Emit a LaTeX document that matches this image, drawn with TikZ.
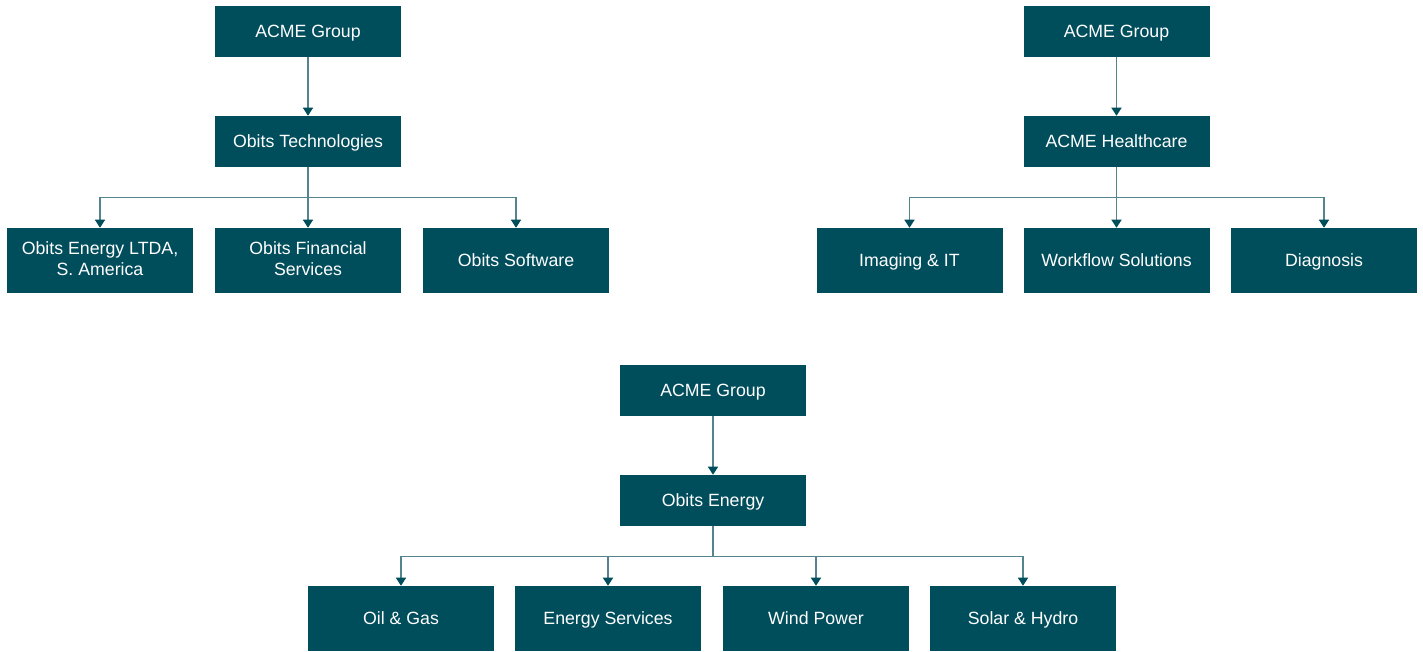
\documentclass[tikz,border=0pt]{standalone}
\usepackage{fontspec}
\setmainfont{Liberation Sans}
\usetikzlibrary{arrows.meta, positioning}
\definecolor{acmeteal}{RGB}{0, 77, 92}
\definecolor{acmeline}{RGB}{84, 132, 142}
\newcommand{\unitstrut}{\rule[-3pt]{0pt}{15.6pt}}

\begin{document}
\begin{tikzpicture}[
    x=0.75pt, y=-0.75pt,
    unit/.style={rectangle, fill=acmeteal, text=white, inner sep=0pt, minimum width=139.5pt, minimum height=38.25pt, align=center, font=\fontsize{13.3}{15.8}\selectfont, execute at begin node=\unitstrut, execute at end node=\unitstrut},
    subunit/.style={unit, minimum height=48.75pt},
    arrow/.style={-{Triangle[width=7.5pt, length=6pt, color=acmeteal]}, line width=1.1pt, acmeline}
]
    \useasboundingbox (0,0) rectangle (1423,651);

    % Obits Technologies
    \node[unit] (acmeL) at (308, 31.5) {ACME Group};
    \node[unit] (tech) at (308, 141.5) {Obits Technologies};
    \node[subunit] (ltda) at (100, 260.5) {Obits Energy LTDA,\\S. America};
    \node[subunit] (finserv) at (308, 260.5) {Obits Financial\\Services};
    \node[subunit] (software) at (516, 260.5) {Obits Software};

    \draw[arrow] (acmeL) -- (tech);
    \draw[arrow] (tech.south) -- ++(0,30) -| (ltda.north);
    \draw[arrow] (tech.south) -- (finserv.north);
    \draw[arrow] (tech.south) -- ++(0,30) -| (software.north);

    % ACME Healthcare
    \node[unit] (acmeR) at (1116.5, 31.5) {ACME Group};
    \node[unit] (health) at (1116.5, 141.5) {ACME Healthcare};
    \node[subunit] (imaging) at (909.5, 260.5) {Imaging \& IT};
    \node[subunit] (workflow) at (1116.5, 260.5) {Workflow Solutions};
    \node[subunit] (diagnosis) at (1324, 260.5) {Diagnosis};

    \draw[arrow] (acmeR) -- (health);
    \draw[arrow] (health.south) -- ++(0,30) -| (imaging.north);
    \draw[arrow] (health.south) -- (workflow.north);
    \draw[arrow] (health.south) -- ++(0,30) -| (diagnosis.north);

    % Obits Energy
    \node[unit] (acmeB) at (713, 390.5) {ACME Group};
    \node[unit] (energy) at (713, 500.5) {Obits Energy};
    \node[subunit] (oilgas) at (401, 618.5) {Oil \& Gas};
    \node[subunit] (enserv) at (608, 618.5) {Energy Services};
    \node[subunit] (wind) at (816, 618.5) {Wind Power};
    \node[subunit] (solar) at (1023, 618.5) {Solar \& Hydro};

    \draw[arrow] (acmeB) -- (energy);
    \draw[arrow] (energy.south) -- ++(0,30) -| (oilgas.north);
    \draw[arrow] (energy.south) -- ++(0,30) -| (enserv.north);
    \draw[arrow] (energy.south) -- ++(0,30) -| (wind.north);
    \draw[arrow] (energy.south) -- ++(0,30) -| (solar.north);

\end{tikzpicture}
\end{document}
